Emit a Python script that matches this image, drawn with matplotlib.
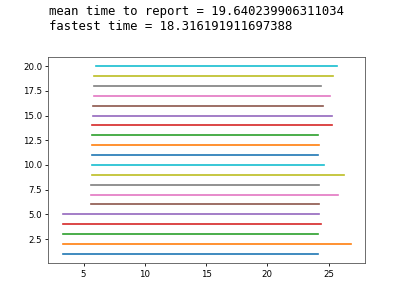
import matplotlib
matplotlib.use("Agg")
import matplotlib.pyplot as plt

rows = list(range(1, 21))
start_times = [3.29, 3.29, 3.29, 3.29, 3.29,
               5.60, 5.60, 5.60, 5.67, 5.67,
               5.67, 5.67, 5.67, 5.67, 5.73,
               5.78, 5.86, 5.84, 5.86, 6.00]
end_times = [24.10, 26.80, 24.15, 24.40, 24.25,
             24.25, 25.80, 24.25, 26.30, 24.65,
             24.15, 24.24, 24.10, 25.27, 25.24,
             24.56, 25.10, 24.35, 25.33, 25.70]
mean_time = "19.640239906311034"
fastest_time = "18.316191911697388"

W, H = 396, 294
fig = plt.figure(figsize=(W / 100, H / 100), dpi=100)
ax = fig.add_axes([48.3 / W, 1 - 263.3 / H, (365 - 48.3) / W, (263.3 - 56.7) / H])

for r, s, e in zip(rows, start_times, end_times):
    ax.plot([s, e], [r, r], lw=1.2)

ax.tick_params(labelsize=6.2, length=2.5, width=0.6, pad=2)
for sp in ax.spines.values():
    sp.set_linewidth(0.6)
    sp.set_color("#555555")

fig.text(49 / W, 1 - 12 / H, f"mean time to report = {mean_time}",
         family="DejaVu Sans Mono", fontsize=8.8, va="center", ha="left")
fig.text(49 / W, 1 - 26 / H, f"fastest time = {fastest_time}",
         family="DejaVu Sans Mono", fontsize=8.8, va="center", ha="left")

fig.savefig("out.png", dpi=100)
